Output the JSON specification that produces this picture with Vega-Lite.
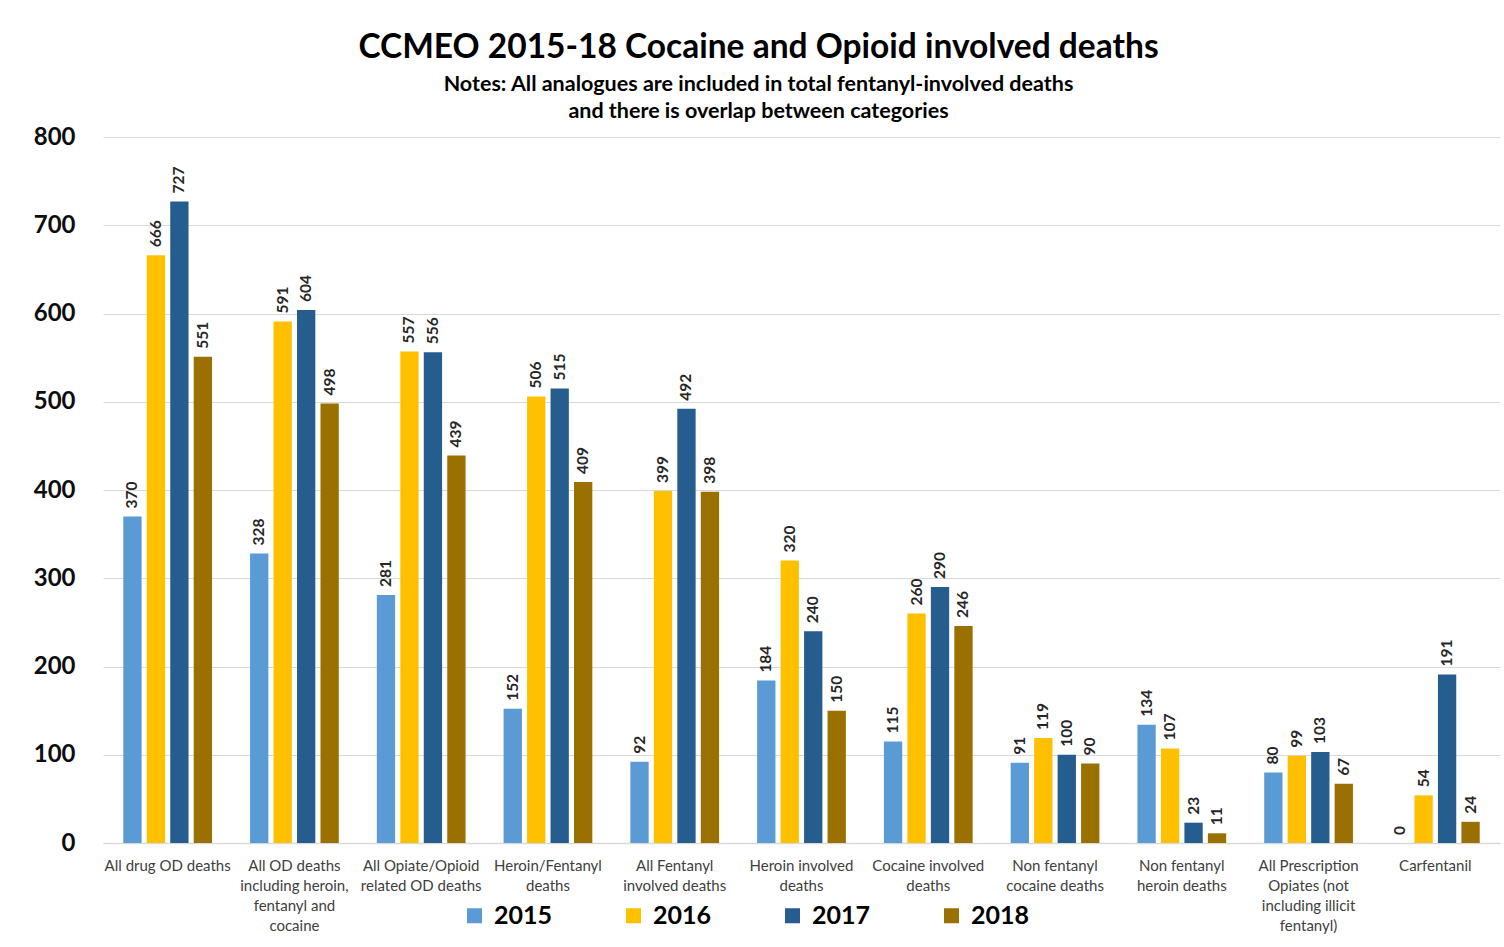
{
  "$schema": "https://vega.github.io/schema/vega-lite/v6.json",
  "width": 1397,
  "height": 706,
  "autosize": {"type": "none"},
  "padding": {"left": 103, "top": 137, "right": 4, "bottom": 104},
  "background": "white",
  "title": {
    "text": "CCMEO 2015-18 Cocaine and Opioid involved deaths",
    "subtitle": ["Notes: All analogues are included in total fentanyl-involved deaths", "and there is overlap between categories"],
    "anchor": "middle",
    "frame": "group",
    "dx": -43,
    "offset": 2,
    "font": "Lato",
    "fontSize": 33.5,
    "fontWeight": "bold",
    "color": "#000000",
    "subtitleFont": "Lato",
    "subtitleFontSize": 21.5,
    "subtitleFontWeight": "bold",
    "subtitleColor": "#000000",
    "subtitleLineHeight": 27,
    "subtitlePadding": 8
  },
  "data": {
    "values": [
      {"category": "All drug OD deaths", "year": "2015", "deaths": 370},
      {"category": "All drug OD deaths", "year": "2016", "deaths": 666},
      {"category": "All drug OD deaths", "year": "2017", "deaths": 727},
      {"category": "All drug OD deaths", "year": "2018", "deaths": 551},
      {"category": "All OD deaths\nincluding heroin,\nfentanyl and\ncocaine", "year": "2015", "deaths": 328},
      {"category": "All OD deaths\nincluding heroin,\nfentanyl and\ncocaine", "year": "2016", "deaths": 591},
      {"category": "All OD deaths\nincluding heroin,\nfentanyl and\ncocaine", "year": "2017", "deaths": 604},
      {"category": "All OD deaths\nincluding heroin,\nfentanyl and\ncocaine", "year": "2018", "deaths": 498},
      {"category": "All Opiate/Opioid\nrelated OD deaths", "year": "2015", "deaths": 281},
      {"category": "All Opiate/Opioid\nrelated OD deaths", "year": "2016", "deaths": 557},
      {"category": "All Opiate/Opioid\nrelated OD deaths", "year": "2017", "deaths": 556},
      {"category": "All Opiate/Opioid\nrelated OD deaths", "year": "2018", "deaths": 439},
      {"category": "Heroin/Fentanyl\ndeaths", "year": "2015", "deaths": 152},
      {"category": "Heroin/Fentanyl\ndeaths", "year": "2016", "deaths": 506},
      {"category": "Heroin/Fentanyl\ndeaths", "year": "2017", "deaths": 515},
      {"category": "Heroin/Fentanyl\ndeaths", "year": "2018", "deaths": 409},
      {"category": "All Fentanyl\ninvolved deaths", "year": "2015", "deaths": 92},
      {"category": "All Fentanyl\ninvolved deaths", "year": "2016", "deaths": 399},
      {"category": "All Fentanyl\ninvolved deaths", "year": "2017", "deaths": 492},
      {"category": "All Fentanyl\ninvolved deaths", "year": "2018", "deaths": 398},
      {"category": "Heroin involved\ndeaths", "year": "2015", "deaths": 184},
      {"category": "Heroin involved\ndeaths", "year": "2016", "deaths": 320},
      {"category": "Heroin involved\ndeaths", "year": "2017", "deaths": 240},
      {"category": "Heroin involved\ndeaths", "year": "2018", "deaths": 150},
      {"category": "Cocaine involved\ndeaths", "year": "2015", "deaths": 115},
      {"category": "Cocaine involved\ndeaths", "year": "2016", "deaths": 260},
      {"category": "Cocaine involved\ndeaths", "year": "2017", "deaths": 290},
      {"category": "Cocaine involved\ndeaths", "year": "2018", "deaths": 246},
      {"category": "Non fentanyl\ncocaine deaths", "year": "2015", "deaths": 91},
      {"category": "Non fentanyl\ncocaine deaths", "year": "2016", "deaths": 119},
      {"category": "Non fentanyl\ncocaine deaths", "year": "2017", "deaths": 100},
      {"category": "Non fentanyl\ncocaine deaths", "year": "2018", "deaths": 90},
      {"category": "Non fentanyl\nheroin deaths", "year": "2015", "deaths": 134},
      {"category": "Non fentanyl\nheroin deaths", "year": "2016", "deaths": 107},
      {"category": "Non fentanyl\nheroin deaths", "year": "2017", "deaths": 23},
      {"category": "Non fentanyl\nheroin deaths", "year": "2018", "deaths": 11},
      {"category": "All Prescription\nOpiates (not\nincluding illicit\nfentanyl)", "year": "2015", "deaths": 80},
      {"category": "All Prescription\nOpiates (not\nincluding illicit\nfentanyl)", "year": "2016", "deaths": 99},
      {"category": "All Prescription\nOpiates (not\nincluding illicit\nfentanyl)", "year": "2017", "deaths": 103},
      {"category": "All Prescription\nOpiates (not\nincluding illicit\nfentanyl)", "year": "2018", "deaths": 67},
      {"category": "Carfentanil", "year": "2015", "deaths": 0},
      {"category": "Carfentanil", "year": "2016", "deaths": 54},
      {"category": "Carfentanil", "year": "2017", "deaths": 191},
      {"category": "Carfentanil", "year": "2018", "deaths": 24}
    ]
  },
  "encoding": {
    "x": {
      "field": "category",
      "type": "nominal",
      "sort": null,
      "scale": {"paddingInner": 0.3, "paddingOuter": 0.16},
      "axis": {
        "title": null,
        "labelAngle": 0,
        "labelExpr": "split(datum.label, '\\n')",
        "labelFont": "Lato",
        "labelFontSize": 15,
        "labelColor": "#404040",
        "labelLineHeight": 20,
        "labelPadding": 15,
        "labelBaseline": "top",
        "labelLimit": 200,
        "ticks": false,
        "domainColor": "#d9d9d9",
        "domainWidth": 1.5,
        "grid": false
      }
    },
    "xOffset": {
      "field": "year",
      "type": "nominal",
      "scale": {"paddingInner": 0.22, "paddingOuter": 0}
    },
    "y": {
      "field": "deaths",
      "type": "quantitative",
      "scale": {"domain": [0, 800], "nice": false},
      "axis": {
        "title": null,
        "values": [0, 100, 200, 300, 400, 500, 600, 700, 800],
        "labelFont": "Lato",
        "labelFontSize": 24,
        "labelFontWeight": "bold",
        "labelColor": "#0d0d0d",
        "labelPadding": 28,
        "ticks": false,
        "domain": false,
        "gridColor": "#d9d9d9",
        "gridWidth": 1.2
      }
    }
  },
  "layer": [
    {
      "mark": {"type": "bar"},
      "encoding": {
        "color": {
          "field": "year",
          "type": "nominal",
          "scale": {
            "domain": ["2015", "2016", "2017", "2018"],
            "range": ["#5b9bd5", "#ffc000", "#265d8f", "#9a7100"]
          },
          "legend": {
            "title": null,
            "orient": "none",
            "direction": "horizontal",
            "legendX": 359,
            "legendY": 766,
            "symbolType": "square",
            "symbolSize": 225,
            "symbolStrokeWidth": 0,
            "labelFont": "Lato",
            "labelFontSize": 25,
            "labelFontWeight": "bold",
            "labelColor": "#000000",
            "labelOffset": 7,
            "columnPadding": 68
          }
        }
      }
    },
    {
      "mark": {
        "type": "text",
        "angle": 270,
        "align": "left",
        "baseline": "middle",
        "dx": 8,
        "font": "Lato",
        "fontSize": 15.5,
        "fontWeight": "bold",
        "color": "#262626"
      },
      "encoding": {
        "text": {"field": "deaths", "type": "quantitative"}
      }
    }
  ],
  "config": {
    "view": {"stroke": null}
  }
}
